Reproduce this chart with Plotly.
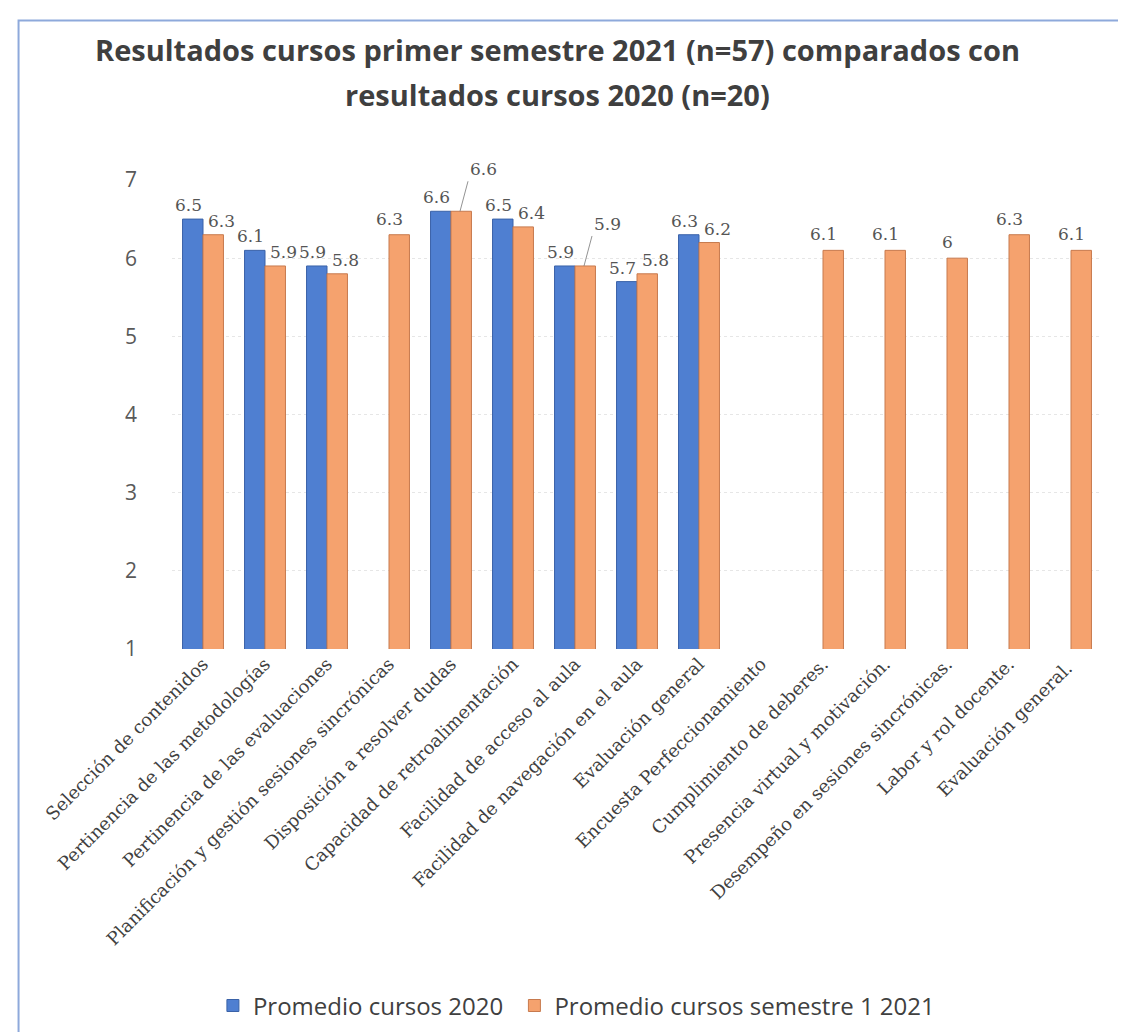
import plotly.graph_objects as go

categories = [
    "Selección de contenidos",
    "Pertinencia de las metodologías",
    "Pertinencia de las evaluaciones",
    "Planificación y gestión sesiones sincrónicas",
    "Disposición a resolver dudas",
    "Capacidad de retroalimentación",
    "Facilidad de acceso al aula",
    "Facilidad de navegación en el aula",
    "Evaluación general",
    "Encuesta Perfeccionamiento",
    "Cumplimiento de deberes.",
    "Presencia virtual y motivación.",
    "Desempeño en sesiones sincrónicas.",
    "Labor y rol docente.",
    "Evaluación general. ",
]
promedio_2020 = [6.5, 6.1, 5.9, None, 6.6, 6.5, 5.9, 5.7, 6.3, None, None, None, None, None, None]
promedio_2021 = [6.3, 5.9, 5.8, 6.3, 6.6, 6.4, 5.9, 5.8, 6.2, None, 6.1, 6.1, 6.0, 6.3, 6.1]
y_ticks = [1, 2, 3, 4, 5, 6, 7]
series_names = ["Promedio cursos 2020", "Promedio cursos semestre 1 2021"]
title_lines = [
    "Resultados cursos primer semestre 2021 (n=57) comparados con",
    "resultados cursos 2020 (n=20)",
]

def fmt(v):
    return str(int(v)) if float(v).is_integer() else str(v)

label_font = dict(family="DejaVu Serif, Liberation Serif, serif", size=17, color="#555555")

fig = go.Figure()
fig.add_trace(go.Bar(
    x=categories, y=promedio_2020, name=series_names[0] + "\u00a0",
    marker=dict(color="#4F7FD1", line=dict(color="#3A62A8", width=1)),
))
fig.add_trace(go.Bar(
    x=categories, y=promedio_2021, name=series_names[1],
    marker=dict(color="#F5A26E", line=dict(color="#C77A4E", width=1)),
))

# value labels
for cat, b, o in zip(categories, promedio_2020, promedio_2021):
    if b is not None:
        fig.add_annotation(
            x=cat, y=b, text=fmt(b), showarrow=False,
            xanchor="right", yanchor="bottom", xshift=1, yshift=2,
            font=label_font,
        )
    if o is not None:
        if b is None:
            fig.add_annotation(
                x=cat, y=o, text=fmt(o), showarrow=False,
                xanchor="center", yanchor="bottom", yshift=4,
                font=label_font,
            )
        elif abs(o - b) < 0.05:
            fig.add_annotation(
                x=cat, y=o, text=fmt(o), showarrow=True, arrowhead=0,
                arrowwidth=0.8, arrowcolor="#777777", standoff=0,
                xshift=9, ax=8, ay=-30, xanchor="left", yanchor="bottom",
                font=label_font,
            )
        else:
            fig.add_annotation(
                x=cat, y=o, text=fmt(o), showarrow=False,
                xanchor="left", yanchor="bottom", xshift=3, yshift=2,
                font=label_font,
            )

# frame border
fig.add_shape(type="rect", xref="paper", yref="paper",
              x0=-0.165, x1=1.028, y0=-0.825, y1=1.34,
              line=dict(color="#8EA9DB", width=2), fillcolor="rgba(0,0,0,0)", layer="below")

# title lines
for txt, yy in zip(title_lines, [1.279, 1.183]):
    fig.add_annotation(
        text="<b>" + txt + "</b>", xref="paper", yref="paper",
        x=0.415, y=yy, xanchor="center", yanchor="middle", showarrow=False,
        font=dict(family="Open Sans, sans-serif", size=29, color="#3F3F3F"),
    )

fig.update_layout(
    width=1126, height=1032,
    margin=dict(l=164, r=32, t=172, b=391),
    paper_bgcolor="white", plot_bgcolor="white",
    barmode="group", bargap=0.34, bargroupgap=0.0,
    font=dict(family="Open Sans, sans-serif", color="#595959"),
    xaxis=dict(
        tickangle=-45, tickfont=dict(family="DejaVu Serif, Liberation Serif, serif", size=18, color="#404040"),
        showgrid=False, showline=False, ticks="",
    ),
    yaxis=dict(
        range=[1, 7], tickvals=y_ticks, ticktext=[str(t) for t in y_ticks],
        tickfont=dict(family="Open Sans, sans-serif", size=21, color="#595959"),
        showgrid=True, gridcolor="#E6E6E6", griddash="dot", gridwidth=1,
        zeroline=False, showline=False, ticks="", ticklabelstandoff=34,
    ),
    legend=dict(
        orientation="h", x=0.044, xanchor="left", y=-0.761, yanchor="middle",
        font=dict(family="Open Sans, sans-serif", size=24, color="#404040"),
        itemwidth=30, traceorder="normal",
    ),
)

fig.write_html("out.html")
